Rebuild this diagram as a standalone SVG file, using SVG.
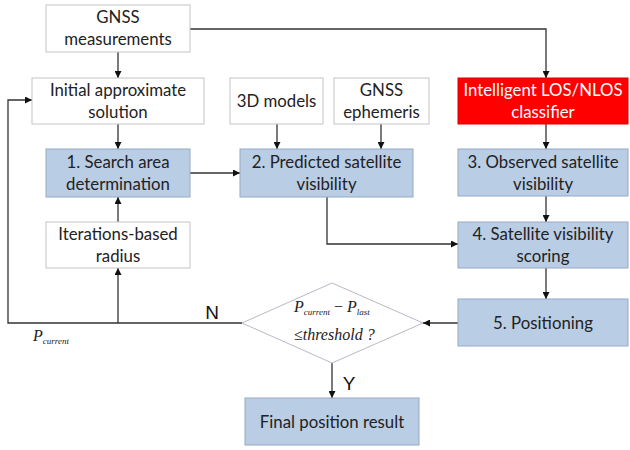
<svg xmlns="http://www.w3.org/2000/svg" width="630" height="450" viewBox="0 0 630 450">
<style>
.w{fill:#fff;stroke:#c4c4c4;stroke-width:1}
.b{fill:#b9cde5;stroke:#95a9c4;stroke-width:1}
.r{fill:#ff0000;stroke:#e00000;stroke-width:1}
.t{font-family:Lato,"Open Sans",sans-serif;font-size:16.8px;fill:#222;text-anchor:middle}
.tw{font-family:Lato,"Open Sans",sans-serif;font-size:16.8px;fill:#fff;text-anchor:middle}
.m{font-family:"Liberation Serif",serif;font-style:italic;fill:#222}
.c{fill:none;stroke:#333;stroke-width:1.3}
</style>
<defs>
<marker id="a" viewBox="0 0 10 10" refX="10" refY="5" markerWidth="7" markerHeight="7" orient="auto" markerUnits="userSpaceOnUse"><path d="M0,0L10,5L0,10z" fill="#111"/></marker>
</defs>
<g id="connectors">
<path class="c" d="M118,52V78" marker-end="url(#a)"/>
<path class="c" d="M190,29H546V78" marker-end="url(#a)"/>
<path class="c" d="M118,124V149" marker-end="url(#a)"/>
<path class="c" d="M190,173H240" marker-end="url(#a)"/>
<path class="c" d="M277,124V149" marker-end="url(#a)"/>
<path class="c" d="M381,124V149" marker-end="url(#a)"/>
<path class="c" d="M546,124V149" marker-end="url(#a)"/>
<path class="c" d="M546,196V222" marker-end="url(#a)"/>
<path class="c" d="M327,197V244H458" marker-end="url(#a)"/>
<path class="c" d="M546,268V299" marker-end="url(#a)"/>
<path class="c" d="M458,323H423" marker-end="url(#a)"/>
<path class="c" d="M332,363V398" marker-end="url(#a)"/>
<path class="c" d="M242,323H8V100H32" marker-end="url(#a)"/>
<path class="c" d="M118,323V268" marker-end="url(#a)"/>
<path class="c" d="M118,222V197" marker-end="url(#a)"/>
</g>
<g id="gnss-measurements"><rect class="w" x="46" y="5" width="144" height="47"/><text class="t" x="118" y="23">GNSS</text><text class="t" x="118" y="45">measurements</text></g>
<g id="initial-solution"><rect class="w" x="32" y="78" width="172" height="46"/><text class="t" x="118" y="96">Initial approximate</text><text class="t" x="118" y="118">solution</text></g>
<g id="models-3d"><rect class="w" x="230" y="78" width="93" height="46"/><text class="t" x="276.5" y="107">3D models</text></g>
<g id="gnss-ephemeris"><rect class="w" x="334" y="78" width="95" height="46"/><text class="t" x="381.5" y="96">GNSS</text><text class="t" x="381.5" y="118">ephemeris</text></g>
<g id="classifier"><rect class="r" x="458" y="78" width="170" height="46"/><text class="tw" x="543" y="96">Intelligent LOS/NLOS</text><text class="tw" x="543" y="118">classifier</text></g>
<g id="search-area"><rect class="b" x="46" y="149" width="144" height="48"/><text class="t" x="118" y="168">1. Search area</text><text class="t" x="118" y="190">determination</text></g>
<g id="predicted"><rect class="b" x="240" y="149" width="173" height="48"/><text class="t" x="326.5" y="168">2. Predicted satellite</text><text class="t" x="326.5" y="190">visibility</text></g>
<g id="observed"><rect class="b" x="458" y="149" width="170" height="47"/><text class="t" x="543" y="168">3. Observed satellite</text><text class="t" x="543" y="190">visibility</text></g>
<g id="iterations-radius"><rect class="w" x="46" y="222" width="144" height="46"/><text class="t" x="118" y="240">Iterations-based</text><text class="t" x="118" y="262">radius</text></g>
<g id="scoring"><rect class="b" x="458" y="222" width="170" height="46"/><text class="t" x="543" y="240">4. Satellite visibility</text><text class="t" x="543" y="262">scoring</text></g>
<g id="positioning"><rect class="b" x="458" y="299" width="170" height="47"/><text class="t" x="543" y="329">5. Positioning</text></g>
<g id="decision"><path d="M242,323L332,283L423,323L332,363z" fill="#fff" stroke="#b8b8c8" stroke-width="1"/>
<text class="m" x="294" y="312" font-size="16">P<tspan font-size="9" dy="3">current</tspan><tspan font-style="normal" dy="-3"> − </tspan>P<tspan font-size="9" dy="3">last</tspan></text>
<text class="m" x="294" y="340" font-size="16"><tspan font-style="normal">≤</tspan>threshold ?</text></g>
<g id="final"><rect class="b" x="245" y="398" width="174" height="47"/><text class="t" x="332" y="428">Final position result</text></g>
<text x="212" y="319" font-family="Liberation Sans,sans-serif" font-size="19" fill="#111" text-anchor="middle">N</text>
<text x="349" y="390" font-family="Liberation Sans,sans-serif" font-size="19" fill="#111" text-anchor="middle">Y</text>
<text class="m" x="33" y="341" font-size="16">P<tspan font-size="9" dy="3">current</tspan></text>
</svg>
